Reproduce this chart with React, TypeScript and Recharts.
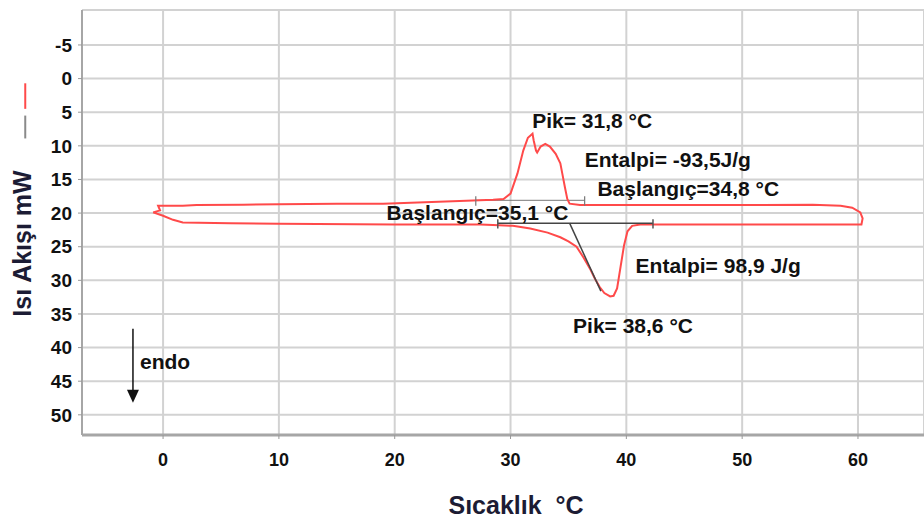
import React from 'react';
import {
  LineChart,
  Line,
  XAxis,
  YAxis,
  CartesianGrid,
  ReferenceLine,
  ReferenceDot,
  Label,
} from 'recharts';

const FONT = '"Liberation Sans", Arial, sans-serif';

// DSC loop: heating branch (lower, endo peak down) then cooling branch back (upper, exo peak up)
const loopTemp = [
  -0.86, 0.0, 0.86, 1.7, 5.8, 10, 20, 27.4, 29.0, 30.2, 31.7, 33.2, 34.3, 35.0, 35.7, 36.3,
  36.9, 37.3, 37.7, 38.1, 38.6, 38.9, 39.2, 39.5, 39.8, 40.1, 40.5, 41.2, 45, 50, 55, 60.0,
  60.3, 60.4, 60.2, 59.5, 58.5, 56.1, 50, 45, 40, 36, 35.1, 34.9, 34.7, 34.5, 34.3, 33.9,
  33.4, 33.0, 32.6, 32.3, 32.2, 32.0, 31.9, 31.5, 31.1, 30.6, 30.0, 29.4, 28.5, 25.6, 19,
  15, 10, 6.9, 2.9, 1.7, 0.5, -0.43, -0.26, -0.86,
];
const loopFlow = [
  19.9, 20.4, 21.0, 21.4, 21.5, 21.6, 21.7, 21.7, 21.8, 21.9, 22.3, 22.9, 23.6, 24.2, 25.0, 26.6,
  28.4, 29.8, 31.0, 31.9, 32.4, 32.3, 31.2, 28.0, 24.8, 22.7, 21.9, 21.7, 21.7, 21.7, 21.7, 21.7,
  21.7, 20.8, 19.9, 19.2, 18.9, 18.75, 18.8, 18.8, 18.8, 18.8, 18.6, 17.9, 16.2, 14.4, 12.6, 11.2,
  10.1, 9.7, 10.1, 11.0, 10.7, 9.2, 8.2, 8.8, 10.7, 14.1, 17.1, 17.9, 18.0, 18.2, 18.6,
  18.6, 18.7, 18.75, 18.8, 18.9, 18.9, 18.9, 19.6, 19.9,
];

const loop = loopTemp.map((t, i) => ({ t, f: loopFlow[i] }));

const xTicks = [0, 10, 20, 30, 40, 50, 60];
const yTicks = [-5, 0, 5, 10, 15, 20, 25, 30, 35, 40, 45, 50];

// evaluation marks (baseline + onset tangent of the endo peak)
const heatBaseT = [28.9, 42.3];
const heatBaseF = 21.5;
const tangentT = [35.1, 37.8];
const tangentF = [21.5, 31.6];
const coolBaseT = [27.0, 36.4];
const coolBaseF = 18.1;

const noteText = [
  'Pik= 31,8 °C',
  'Entalpi= -93,5J/g',
  'Başlangıç=34,8 °C',
  'Başlangıç=35,1 °C',
  'Entalpi= 98,9 J/g',
  'Pik= 38,6 °C',
  'endo',
];
const noteT = [31.87, 36.4, 37.5, 19.3, 40.8, 35.4, -1.99];
const noteF = [7.3, 13.2, 17.4, 21.0, 28.9, 37.9, 43.2];

function noteLabel(text: string) {
  return (p: any) => (
    <text
      x={p.viewBox.x}
      y={p.viewBox.y}
      textAnchor="start"
      fontFamily={FONT}
      fontWeight="bold"
      fontSize={21}
      fill="#111"
    >
      {text}
    </text>
  );
}

const arrowHead = (p: any) => (
  <polygon
    points={`${p.cx - 6},${p.cy - 13} ${p.cx + 6},${p.cy - 13} ${p.cx},${p.cy}`}
    fill="#111"
  />
);

export default function App() {
  return (
    <div style={{ position: 'absolute', left: 0, top: 0, width: 924, height: 519, background: '#fff' }}>
      <LineChart
        width={924}
        height={519}
        data={loop}
        margin={{ top: 10, right: 0, bottom: 0, left: 0 }}
        style={{ fontFamily: FONT }}
      >
        <CartesianGrid stroke="#d2d2d2" strokeWidth={2} />
        <ReferenceLine y={-10.2} stroke="#d2d2d2" strokeWidth={2} />
        <XAxis
          dataKey="t"
          type="number"
          domain={[-7, 65.7]}
          ticks={xTicks}
          allowDataOverflow
          height={84}
          tickSize={4}
          tickMargin={14}
          tickLine={{ stroke: '#999' }}
          axisLine={{ stroke: '#a6a6a6', strokeWidth: 3 }}
          tick={{ fill: '#111', fontSize: 18, fontWeight: 'bold', fontFamily: FONT }}
        >
          <Label
            content={(p: any) => (
              <text
                x={p.viewBox.x + p.viewBox.width / 2 + 13}
                y={p.viewBox.y + 79}
                textAnchor="middle"
                fontFamily={FONT}
                fontWeight="bold"
                fontSize={25}
                fill="#1c1c34"
              >
                {'Sıcaklık\u00a0\u00a0°C'}
              </text>
            )}
          />
        </XAxis>
        <YAxis
          dataKey="f"
          type="number"
          reversed
          domain={[-10.2, 53]}
          ticks={yTicks}
          allowDataOverflow
          width={82}
          tickSize={4}
          tickMargin={6}
          tickLine={{ stroke: '#999' }}
          axisLine={{ stroke: '#a6a6a6', strokeWidth: 2 }}
          tick={{ fill: '#111', fontSize: 19, fontWeight: 'bold', fontFamily: FONT }}
        >
          <Label
            content={(p: any) => {
              const cx = p.viewBox.x + 22;
              const cy = p.viewBox.y + p.viewBox.height / 2 + 21;
              return (
                <text
                  x={cx}
                  y={cy + 9}
                  transform={`rotate(-90 ${cx} ${cy})`}
                  textAnchor="middle"
                  fontFamily={FONT}
                  fontWeight="bold"
                  fontSize={25}
                  fill="#1c1c34"
                >
                  Isı Akışı mW
                </text>
              );
            }}
          />
        </YAxis>

        {/* legend glyphs at the left */}
        <ReferenceLine
          ifOverflow="visible"
          segment={[{ x: -11.9, y: 0.7 }, { x: -11.9, y: 4.5 }]}
          stroke="#ff4a4a"
          strokeWidth={2}
        />
        <ReferenceLine
          ifOverflow="visible"
          segment={[{ x: -11.9, y: 5.5 }, { x: -11.9, y: 8.9 }]}
          stroke="#8a8a8a"
          strokeWidth={2}
        />

        <ReferenceLine
          segment={[{ x: coolBaseT[0], y: coolBaseF }, { x: coolBaseT[1], y: coolBaseF }]}
          stroke="#777"
          strokeWidth={1}
        />

        <Line
          dataKey="f"
          type="linear"
          stroke="#ff4a4a"
          strokeWidth={2}
          dot={false}
          activeDot={false}
          isAnimationActive={false}
        />

        <ReferenceLine
          segment={[{ x: heatBaseT[0], y: heatBaseF }, { x: heatBaseT[1], y: heatBaseF }]}
          stroke="#444"
          strokeWidth={1.5}
        />
        {heatBaseT.map((t) => (
          <ReferenceLine
            key={t}
            segment={[{ x: t, y: heatBaseF - 0.6 }, { x: t, y: heatBaseF + 0.8 }]}
            stroke="#555"
            strokeWidth={1.5}
          />
        ))}
        {coolBaseT.map((t) => (
          <ReferenceLine
            key={'c' + t}
            segment={[{ x: t, y: coolBaseF - 0.6 }, { x: t, y: coolBaseF + 0.8 }]}
            stroke="#777"
            strokeWidth={1.2}
          />
        ))}
        <ReferenceLine
          segment={[{ x: tangentT[0], y: tangentF[0] }, { x: tangentT[1], y: tangentF[1] }]}
          stroke="#444"
          strokeWidth={1.5}
        />

        {/* endo arrow */}
        <ReferenceLine
          segment={[{ x: -2.6, y: 37.2 }, { x: -2.6, y: 46.5 }]}
          stroke="#111"
          strokeWidth={1.5}
        />
        <ReferenceDot x={-2.6} y={48.2} r={0} shape={arrowHead} />

        {noteText.map((text, i) => (
          <ReferenceDot
            key={text}
            x={noteT[i]}
            y={noteF[i]}
            r={0}
            fill="none"
            stroke="none"
            label={noteLabel(text)}
          />
        ))}
      </LineChart>
    </div>
  );
}
